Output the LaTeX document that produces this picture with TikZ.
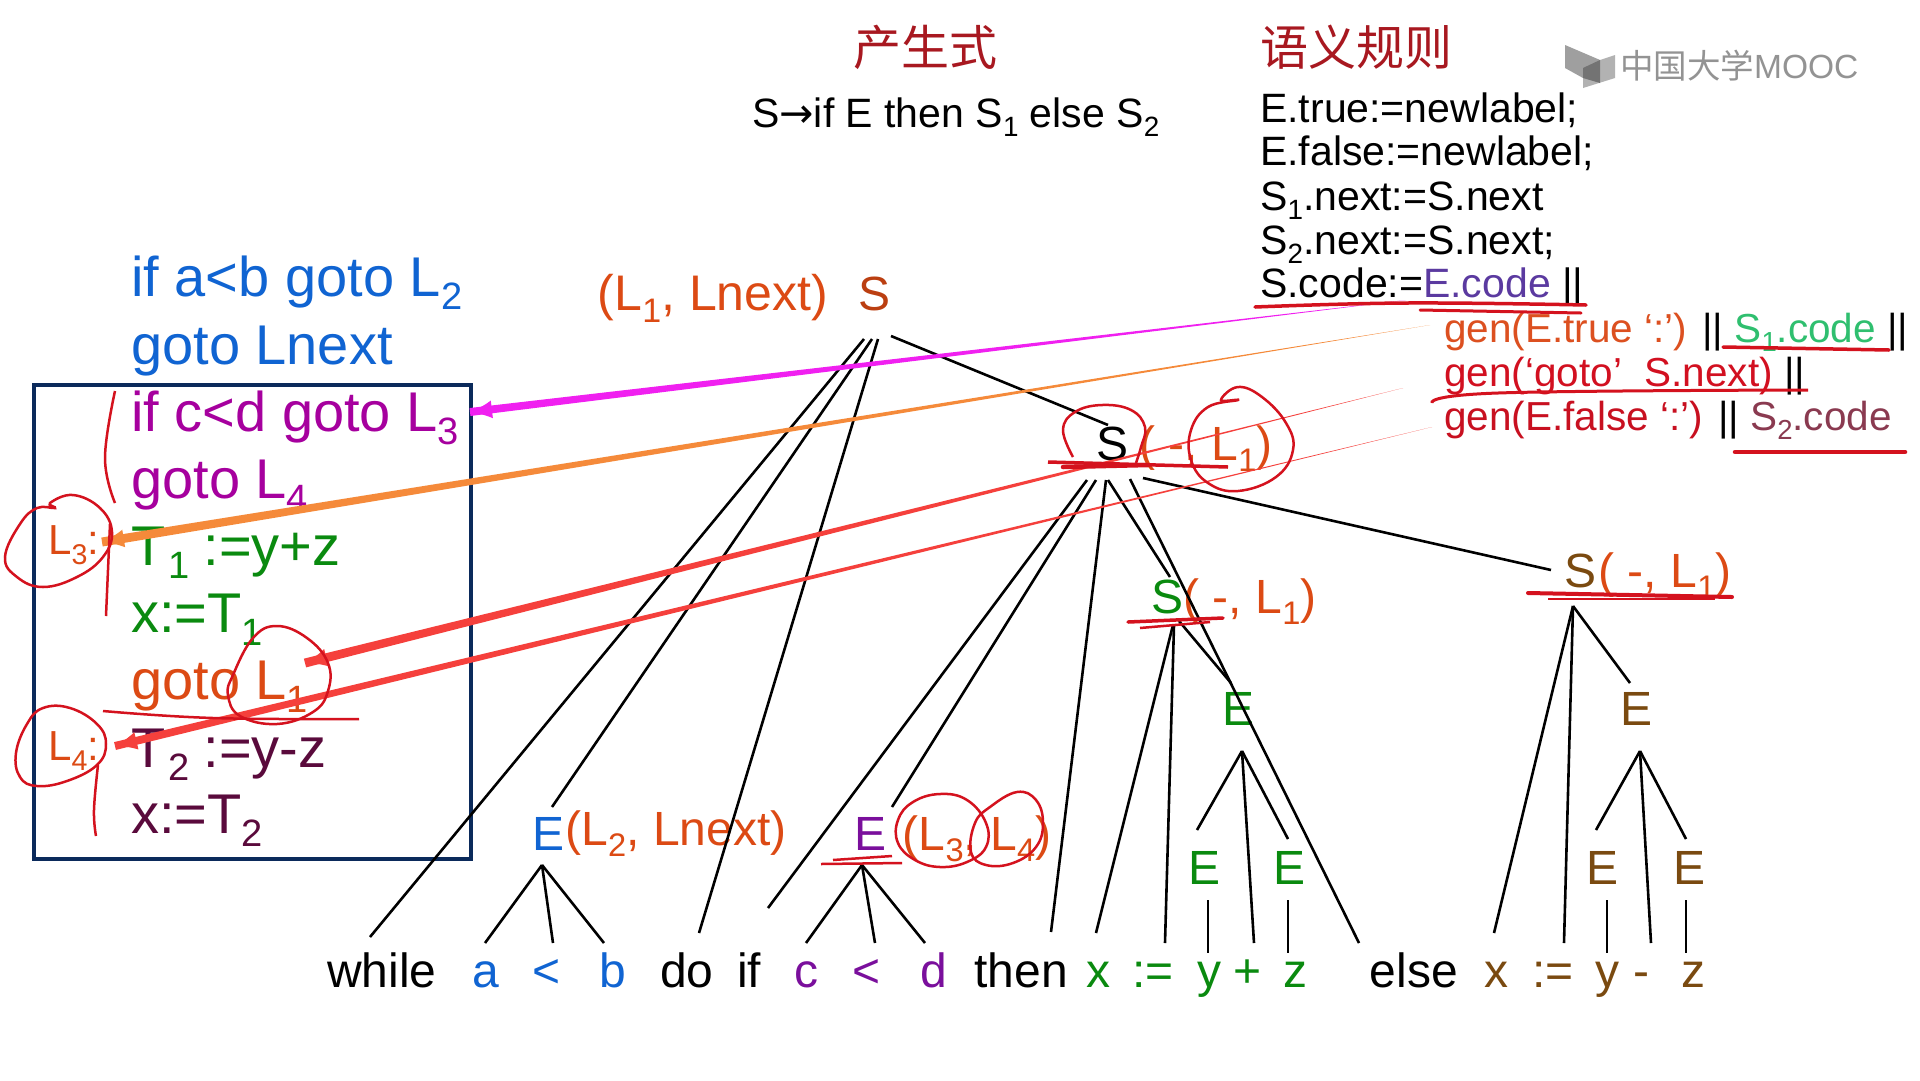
\documentclass[tikz,border=0pt]{standalone}
\usepackage{fontspec}
\usepackage{graphicx}
\setmainfont{Liberation Sans}
\newfontfamily\cjkf{Noto Sans CJK SC}
\newfontfamily\arrowf{DejaVu Sans}
\usetikzlibrary{arrows.meta,calc}
\definecolor{cblue}{HTML}{1064D2}
\definecolor{cpurple}{HTML}{A6009E}
\definecolor{dpurple}{HTML}{7A0F9C}
\definecolor{cgreen}{HTML}{0A8A0F}
\definecolor{cbrown}{HTML}{7A4A10}
\definecolor{cmaroon}{HTML}{5A0A3C}
\definecolor{corange}{HTML}{DC4A14}
\definecolor{hred}{HTML}{D4121E}
\definecolor{cnavy}{HTML}{0B2A5B}
\definecolor{titlered}{HTML}{A81820}
\definecolor{cmag}{HTML}{F020F0}
\definecolor{corg}{HTML}{F58A3A}
\definecolor{cred}{HTML}{F5403C}
\newcommand\subs[1]{\raisebox{-.24em}{\scalebox{.68}{#1}}}
\newcommand\tedge[6]{\draw[treeedge] ([shift={(#2,#3)}]#1.base) -- ([shift={(#5,#6)}]#4.base);}
\newcommand\taperarrow[4]{%
  \fill[#1] (#2) -- ($(#3)!#4!90:(#2)$) -- ($(#3)!#4!-90:(#2)$) -- cycle;
  \draw[#1,line width=2pt,-{Latex[length=22pt,width=18pt]}] ($(#3)!22pt!(#2)$) -- (#3);}
\tikzset{
  codeline/.style={anchor=base west,inner sep=0pt,font=\fontsize{56}{66}\selectfont},
  ruleline/.style={anchor=base west,inner sep=0pt,font=\fontsize{41}{48}\selectfont},
  genline/.style={anchor=base west,inner sep=0pt,font=\fontsize{40.5}{48}\selectfont},
  leaf/.style={anchor=base,inner sep=0pt,font=\fontsize{48}{58}\selectfont},
  lab/.style={anchor=base,inner sep=0pt,font=\fontsize{48}{56}\selectfont,text=corange},
  treeedge/.style={draw=black,line width=2.6pt},
  hand/.style={draw=hred,line width=2.5pt},
  handthick/.style={draw=hred,line width=4.5pt,line cap=round},
  titlehead/.style={anchor=base west,inner sep=0pt,font=\cjkf\fontsize{48}{56}\selectfont,text=titlered}
}
\begin{document}
\begin{tikzpicture}[x=1pt,y=-1pt]
\useasboundingbox (0,0) rectangle (1920,1080);
\fill[white] (0,0) rectangle (1920,1080);

% titles
\node[titlehead] (tA) at (853,65) {产生式};
\node[titlehead] (tB) at (1260,65) {语义规则};
\node[anchor=base west,inner sep=0pt,font=\fontsize{41}{48}\selectfont] (prod) at (752,127) {S{\arrowf→}if E then S\subs{1} else S\subs{2}};

% logo
\fill[gray!75] (1565,45) -- (1600,60) -- (1600,72) -- (1583,72) -- (1583,78) -- (1565,68) -- cycle;
\fill[gray!60] (1583,72) -- (1600,60) -- (1615,55) -- (1615,78) -- (1583,88) -- cycle;
\fill[gray!110] (1583,78) -- (1583,68) -- (1600,60) -- (1600,83) -- cycle;
\node[anchor=base west,inner sep=0pt,text=gray!85,font=\cjkf\fontsize{33.5}{40}\selectfont] (logo) at (1620,78) {中国大学\fontspec{Liberation Sans}MOOC};

% rule lines
\node[ruleline] (r1) at (1260,122) {E.true:=newlabel;};
\node[ruleline] (r2) at (1260,165) {E.false:=newlabel;};
\node[ruleline] (r3) at (1260,210) {S\subs{1}.next:=S.next};
\node[ruleline] (r4) at (1260,254) {S\subs{2}.next:=S.next;};
\node[ruleline] (r5) at (1260,297) {S.code:=\textcolor[HTML]{5B3AA0}{E.code} ||};
\node[genline] (r6) at (1444,342) {\textcolor[HTML]{DC5020}{gen(E.true ‘:’)} || \textcolor[HTML]{2FBF6F}{S\subs{1}.code} ||};
\node[genline] (r7) at (1444,386) {\textcolor[HTML]{D21020}{gen(‘goto’\ \ S.next)} ||};
\node[genline] (r8) at (1444,430) {\textcolor[HTML]{C81020}{gen(E.false ‘:’)} || \textcolor[HTML]{8A3A50}{S\subs{2}.code}};

% code box
\node[draw=cnavy,line width=4pt,inner sep=0pt,minimum width=437pt,minimum height=474pt,anchor=north west] (box) at (32,383) {};
\node[codeline,text=cblue] (c1) at (131,296) {if a<b goto L\subs{2}};
\node[codeline,text=cblue] (c2) at (131,364) {goto Lnext};
\node[codeline,text=cpurple] (c3) at (131,431) {if c<d goto L\subs{3}};
\node[codeline,text=cpurple] (c4) at (131,498) {goto L\subs{4}};
\node[codeline,text=cgreen] (c5) at (131,565) {T\kern3pt\subs{1}\kern14pt:=y+z};
\node[codeline,text=cgreen] (c6) at (131,632) {x:=T\subs{1}};
\node[codeline,text=corange] (c7) at (131,699) {goto L\subs{1}};
\node[codeline,text=cmaroon] (c8) at (131,767) {T\kern3pt\subs{2}\kern14pt:=y-z};
\node[codeline,text=cmaroon] (c9) at (131,833) {x:=T\subs{2}};
\node[anchor=base west,inner sep=0pt,font=\fontsize{42}{50}\selectfont,text=corange] (l3) at (48,554) {L\subs{3}:};
\node[anchor=base west,inner sep=0pt,font=\fontsize{42}{50}\selectfont,text=corange] (l4) at (48,760) {L\subs{4}:};

% tree nodes
\node[leaf,text=corange!85!black] (nRoot) at (874,310) {S};
\node[lab,font=\fontsize{50}{58}\selectfont] (aRoot) at (713,310) {(L\subs{1}, Lnext)};
\node[leaf] (nS2) at (1112,460) {S};
\node[lab] (aS2) at (1206,460) {( -, L\subs{1})};
\node[leaf,text=cgreen] (nS1) at (1167,613) {S};
\node[lab] (aS1) at (1250,613) {( -, L\subs{1})};
\node[leaf,text=cbrown] (nS3) at (1580,587) {S};
\node[lab] (aS3) at (1665,587) {( -, L\subs{1})};
\node[leaf,text=cblue] (nE1) at (549,850) {E};
\node[lab] (aE1) at (676,845) {(L\subs{2}, Lnext)};
\node[leaf,text=dpurple] (nE2) at (870,850) {E};
\node[lab] (aE2) at (977,850) {(L\subs{3}, L\subs{4})};
\node[leaf,text=cgreen] (nE3) at (1238,725) {E};
\node[leaf,text=cbrown] (nE4) at (1636,725) {E};
\node[leaf,text=cgreen] (nE5) at (1204,884) {E};
\node[leaf,text=cgreen] (nE6) at (1289,884) {E};
\node[leaf,text=cbrown] (nE7) at (1602,884) {E};
\node[leaf,text=cbrown] (nE8) at (1689,884) {E};

% leaves
\node[leaf] (lWhile) at (382,987) {while};
\node[leaf,text=cblue] (la) at (486,987) {a};
\node[leaf,text=cblue] (lLt) at (547,987) {<};
\node[leaf,text=cblue] (lb) at (613,987) {b};
\node[leaf] (ldo) at (687,987) {do};
\node[leaf] (lif) at (749,987) {if};
\node[leaf,text=dpurple] (lc) at (806,987) {c};
\node[leaf,text=dpurple] (lLtb) at (867,987) {<};
\node[leaf,text=dpurple] (ld) at (934,987) {d};
\node[leaf] (lthen) at (1021,987) {then};
\node[leaf,text=cgreen] (lx) at (1098,987) {x};
\node[leaf,text=cgreen] (lAs) at (1153,987) {:=};
\node[leaf,text=cgreen] (ly) at (1209,987) {y};
\node[leaf,text=cgreen] (lplus) at (1248,987) {+};
\node[leaf,text=cgreen] (lz) at (1295,987) {z};
\node[leaf] (lelse) at (1414,987) {else};
\node[leaf,text=cbrown] (lxb) at (1496,987) {x};
\node[leaf,text=cbrown] (lAsb) at (1553,987) {:=};
\node[leaf,text=cbrown] (lyb) at (1607,987) {y};
\node[leaf,text=cbrown] (lminus) at (1641,987) {-};
\node[leaf,text=cbrown] (lzb) at (1693,987) {z};

% tree edges
\tedge{nRoot}{-10}{29}{lWhile}{-12}{-50}
\tedge{nRoot}{-2}{29}{nE1}{3}{-43}
\tedge{nRoot}{4}{29}{ldo}{12}{-54}
\tedge{nRoot}{17}{26}{nS2}{-4}{-35}
\tedge{nS2}{-25}{20}{lif}{19}{-79}
\tedge{nS2}{-16}{20}{nE2}{22}{-43}
\tedge{nS2}{-6}{20}{lthen}{30}{-55}
\tedge{nS2}{-4}{20}{nS1}{3}{-36}
\tedge{nS2}{18}{19}{lelse}{-55}{-44}
\tedge{nS2}{31}{18}{nS3}{-29}{-17}
\tedge{nS1}{6}{12}{lx}{-2}{-54}
\tedge{nS1}{7}{12}{lAs}{12}{-44}
\tedge{nS1}{12}{8}{nE3}{-7}{-42}
\tedge{nS3}{-7}{19}{lxb}{-2}{-54}
\tedge{nS3}{-7}{19}{lAsb}{11}{-44}
\tedge{nS3}{-7}{19}{nE4}{-6}{-42}
\tedge{nE1}{-7}{15}{la}{-1}{-44}
\tedge{nE1}{-7}{15}{lLt}{6}{-44}
\tedge{nE1}{-7}{15}{lb}{-9}{-44}
\tedge{nE2}{-8}{15}{lc}{0}{-44}
\tedge{nE2}{-8}{15}{lLtb}{8}{-44}
\tedge{nE2}{-8}{15}{ld}{-9}{-44}
\tedge{nE3}{4}{26}{nE5}{-7}{-54}
\tedge{nE3}{4}{26}{lplus}{6}{-44}
\tedge{nE3}{4}{26}{nE6}{-1}{-45}
\tedge{nE4}{4}{26}{nE7}{-6}{-54}
\tedge{nE4}{4}{26}{lminus}{10}{-44}
\tedge{nE4}{4}{26}{nE8}{-3}{-45}
\tedge{nE5}{4}{16}{ly}{-1}{-34}
\tedge{nE6}{-1}{16}{lz}{-7}{-34}
\tedge{nE7}{5}{16}{lyb}{0}{-34}
\tedge{nE8}{-3}{16}{lzb}{-7}{-34}

% tapered arrows
\coordinate (magS) at (1406,300); \coordinate (magT) at (470,412);
\coordinate (orgS) at (1430,325); \coordinate (orgT) at (102,542);
\coordinate (redAS) at (1403,388); \coordinate (redAT) at (305,663);
\coordinate (redBS) at (1432,427); \coordinate (redBT) at (115,746);
\taperarrow{cmag}{magS}{magT}{4pt}
\taperarrow{corg}{orgS}{orgT}{4.5pt}
\taperarrow{cred}{redAS}{redAT}{4.5pt}
\taperarrow{cred}{redBS}{redBT}{4pt}

% handwriting: code box
\draw[hand] plot[smooth cycle,tension=.7] coordinates {(50,503)(73,495)(100,508)(112,532)(103,557)(77,577)(43,587)(17,577)(5,557)(20,524)(37,508)(55,508)};
\draw[hand] plot[smooth cycle,tension=.7] coordinates {(43,708)(70,708)(97,724)(106,744)(97,765)(67,781)(37,786)(20,777)(16,753)(27,724)};
\draw[hand] plot[smooth cycle,tension=.7] coordinates {(253,638)(277,626)(307,638)(328,663)(328,691)(313,712)(277,724)(240,716)(228,695)(233,675)};
\draw[hand] plot[smooth,tension=.7] coordinates {(103,711)(213,718)(359,719)};
\draw[hand] plot[smooth,tension=.7] coordinates {(115,391)(105,458)(115,503)};
\draw[hand] (110,524) -- (106,616);
\draw[hand] plot[smooth,tension=.7] coordinates {(98,765)(94,810)(96,836)};

% handwriting: tree
\draw[hand] plot[smooth,tension=.7] coordinates {(1073,457)(1063,430)(1075,412)(1102,405)(1131,410)(1145,427)(1141,447)(1136,463)};
\draw[hand] plot[smooth cycle,tension=.7] coordinates {(1221,400)(1238,387)(1262,397)(1286,423)(1293,450)(1276,477)(1238,491)(1208,483)(1191,460)(1191,430)(1208,407)(1238,400)};
\draw[hand,line width=3.5pt] (1048,462) -- (1228,467);
\draw[handthick] (1063,467) -- (1148,465);
\draw[handthick,line width=3.5pt] (1128,622) -- (1223,618);
\draw[hand] (1140,628) -- (1210,622);
\draw[handthick,line width=4pt] (1528,593) -- (1732,597);
\draw[hand] (1548,599) -- (1715,599);
\draw[hand] (821,864) -- (902,863);
\draw[hand] (833,860) -- (892,856);
\draw[hand] plot[smooth cycle,tension=.7] coordinates {(898,820)(913,802)(940,794)(967,800)(986,823)(986,847)(967,862)(940,867)(915,860)(898,843)};
\draw[hand] plot[smooth cycle,tension=.7] coordinates {(975,823)(990,807)(1017,792)(1036,800)(1043,823)(1036,847)(1013,863)(986,865)(971,852)};

% handwriting: rules
\draw[handthick,line width=3.5pt] plot[smooth,tension=.7] coordinates {(1255,307)(1407,303)(1586,305)};
\draw[handthick,line width=3pt] (1420,310) -- (1581,313);
\draw[handthick,line width=3.5pt] (1723,347) -- (1889,350);
\draw[hand,line width=3pt] plot[smooth,tension=.7] coordinates {(1432,403)(1498,393)(1808,390)};
\draw[handthick] (1735,452) -- (1905,452);
\end{tikzpicture}
\end{document}
